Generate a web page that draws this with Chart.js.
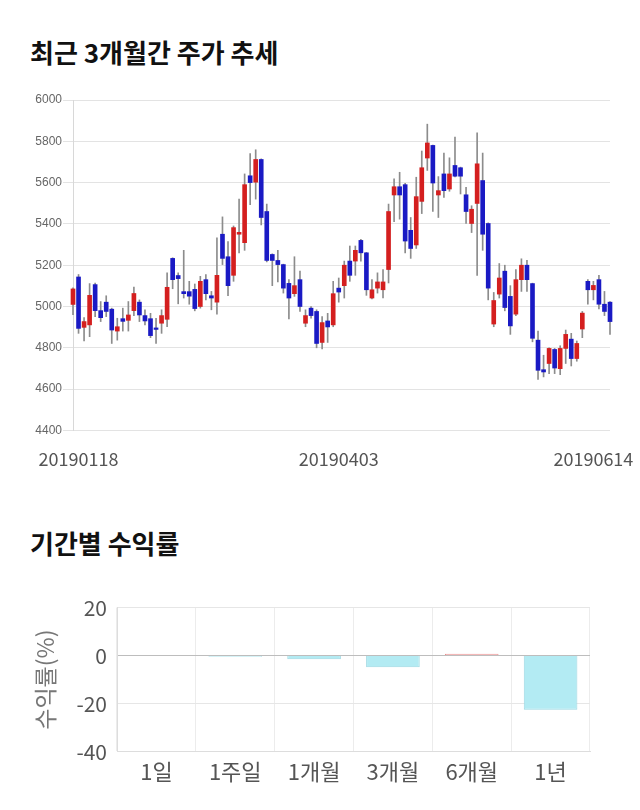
<!DOCTYPE html>
<html>
<head>
<meta charset="utf-8">
<script src="https://cdn.jsdelivr.net/npm/chart.js@4"></script>
<style>
  body { margin: 0; background: #fff; width: 640px; height: 810px; position: relative; overflow: hidden; font-family: 'Noto Sans CJK KR', sans-serif; }
  .title { position: absolute; left: 30px; font-size: 26px; line-height: 30px; font-weight: bold; color: #111; }
  #priceChart { position: absolute; left: 0; top: 90px; }
  #returnChart { position: absolute; left: 0; top: 585px; }
</style>
</head>
<body>
<div class="title" style="top:37px">최근 3개월간 주가 추세</div>
<canvas id="priceChart" width="640" height="398"></canvas>
<div class="title" style="top:528px">기간별 수익률</div>
<canvas id="returnChart" width="640" height="215"></canvas>
<script>
// daily candles
var open  = [5010,5143,4899,4911,5106,4980,5021,4987,4881,4941,4933,4980,5021,4956,4941,4892,4919,4938,5233,5150,
             5072,5072,5083,5000,5130,5052,5021,5350,5241,5151,5350,5309,5633,5602,5712,5460,5252,5223,5203,5112,
             5062,5130,4919,4992,4976,4826,4930,4911,5089,5101,5220,5220,5320,5260,5041,5089,5081,5179,5540,5580,
             5590,5369,5298,5509,5719,5780,5540,5642,5569,5683,5672,5541,5402,5499,5610,5402,4915,5060,5171,5049,
             4963,5130,5200,5111,4837,4694,4724,4792,4699,4797,4842,4748,4891,5122,5081,5130,5011,5021];
var high  = [5090,5155,4946,5111,5114,5024,5052,4992,4943,4992,5024,5094,5032,4984,4967,4943,4984,5163,5236,5163,
             5272,5122,5109,5146,5154,5073,5333,5434,5314,5390,5520,5642,5740,5759,5715,5496,5255,5272,5205,5130,
             5241,5171,4984,5000,4984,4951,4967,5122,5138,5220,5293,5293,5325,5262,5130,5163,5179,5496,5618,5650,
             5597,5431,5626,5753,5883,5782,5629,5743,5720,5821,5675,5577,5488,5841,5743,5405,5068,5208,5200,5101,
             5179,5231,5223,5113,4881,4764,4800,4797,4810,4886,4870,4833,4976,5130,5122,5151,5073,5024];
var low   = [4960,4870,4833,4854,4951,4927,4951,4821,4837,4881,4881,4956,4927,4911,4849,4821,4870,4902,5086,5013,
             5041,5011,4979,4992,5032,4984,4963,5203,5052,5122,5260,5272,5493,5520,5395,5216,5101,5119,5065,4940,
             5049,4976,4902,4943,4800,4794,4826,4902,5021,5041,5122,5151,5220,5054,5037,5065,5041,5114,5411,5423,
             5260,5233,5281,5450,5659,5460,5431,5528,5558,5628,5545,5402,5358,5151,5272,5032,4902,5041,4979,4865,
             4956,5073,5073,4829,4647,4659,4675,4675,4670,4724,4712,4735,4849,5011,5032,4988,4956,4865];
var close = [5085,4894,4927,5054,4980,4946,4976,4886,4902,4928,4959,5063,4959,4930,4859,4889,4956,5093,5130,5135,
             5062,5050,4990,5122,5062,5041,5151,5233,5101,5382,5359,5590,5600,5712,5431,5223,5223,5203,5089,5041,
             5101,5000,4956,4956,4821,4922,4901,5062,5070,5200,5151,5272,5260,5081,5081,5119,5119,5460,5580,5540,
             5317,5281,5532,5672,5792,5598,5561,5561,5642,5631,5631,5460,5471,5691,5350,5089,5029,5138,4995,4906,
             5130,5200,5130,4846,4691,4683,4797,4702,4797,4865,4748,4821,4968,5081,5102,5011,4976,4927];
var tickLabels = ['20190118', '20190403', '20190614'];
var tickIdx = [1, 48, 94];

// period returns (%)
var periods = ['1일', '1주일', '1개월', '3개월', '6개월', '1년'];
var returns = [0, -0.5, -1.5, -4.9, 0.8, -22.6];

Chart.defaults.font.family = "'Noto Sans CJK KR', sans-serif";

var upColor = '#d41f1f';
var downColor = '#1a1ac4';

new Chart(document.getElementById('priceChart'), {
    type: 'bar',
    data: {
        labels: open.map(function (o, i) { return i; }),
        datasets: [{
            data: low.map(function (l, i) { return [l, high[i]]; }),
            backgroundColor: '#8c8c8c',
            barThickness: 1,
            grouped: false,
            order: 2,
            clip: false
        }, {
            data: open.map(function (o, i) { return [o, close[i]]; }),
            backgroundColor: open.map(function (o, i) { return close[i] >= o ? upColor : downColor; }),
            barThickness: 4,
            minBarLength: 1.5,
            grouped: false,
            order: 1,
            clip: false
        }]
    },
    options: {
        responsive: false,
        animation: false,
        layout: { padding: { top: 10, right: 30, bottom: 0, left: 0 } },
        plugins: { legend: { display: false }, tooltip: { enabled: false } },
        scales: {
            x: {
                offset: false,
                grid: { display: false, drawTicks: false },
                border: { display: false },
                afterBuildTicks: function (s) { s.ticks = tickIdx.map(function (v) { return { value: v }; }); },
                afterFit: function (s) { s.paddingLeft = 0; s.paddingRight = 0; },
                ticks: {
                    autoSkip: false, maxRotation: 0, padding: 18, color: '#555',
                    font: { size: 18 },
                    callback: function (v, i) { return tickLabels[i]; }
                }
            },
            y: {
                min: 4400, max: 6000,
                afterFit: function (s) { s.width = 73; },
                ticks: {
                    stepSize: 200, padding: 1, color: '#666',
                    font: { size: 12, family: "'Liberation Sans', Arial, sans-serif" },
                    callback: function (v) { return String(v); }
                },
                grid: { color: '#e3e3e3', tickLength: 10 },
                border: { color: '#d8d8d8' }
            }
        }
    }
});

new Chart(document.getElementById('returnChart'), {
    type: 'bar',
    data: {
        labels: periods,
        datasets: [{
            data: returns,
            backgroundColor: returns.map(function (v) { return v >= 0 ? '#f4a9a9' : '#b3ebf3'; }),
            borderColor: returns.map(function (v) { return v >= 0 ? '#e88f8f' : '#9cd8e2'; }),
            borderWidth: 1,
            barPercentage: 0.68,
            categoryPercentage: 1
        }]
    },
    options: {
        responsive: false,
        animation: false,
        layout: { padding: { top: 17, right: 50, bottom: 8, left: 27 } },
        plugins: { legend: { display: false }, tooltip: { enabled: false } },
        scales: {
            x: {
                grid: { color: '#ececec', drawTicks: false },
                border: { color: '#dddddd' },
                ticks: { padding: 7, color: '#555', font: { size: 22 } }
            },
            y: {
                min: -40, max: 20,
                afterFit: function (s) { s.width = 90; },
                ticks: { stepSize: 20, padding: 10, color: '#555', font: { size: 21 } },
                grid: {
                    drawTicks: false,
                    color: function (c) { return c.tick && c.tick.value === 0 ? '#bdbdbd' : '#e6e6e6'; }
                },
                border: { color: '#dddddd' },
                title: { display: true, text: '수익률(%)', color: '#777', font: { size: 23 } }
            }
        }
    }
});
</script>
</body>
</html>
